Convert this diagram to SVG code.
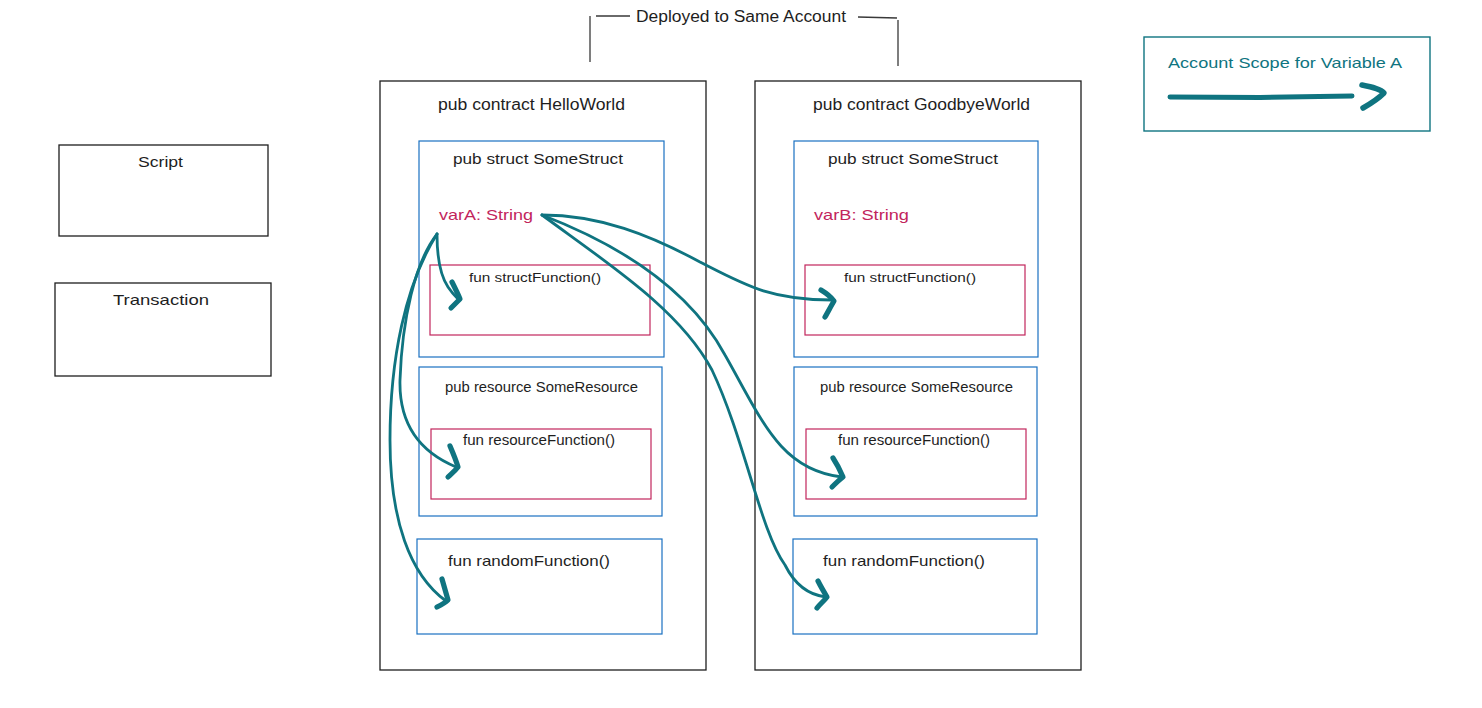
<svg xmlns="http://www.w3.org/2000/svg" width="1482" height="708" viewBox="0 0 1482 708">
  <style>
    .t { font-family: "Liberation Sans", "DejaVu Sans", sans-serif; fill: #1e1e1e; }
    .blk { fill: #ffffff; stroke: #1e1e1e; stroke-width: 1.3; }
    .blue { fill: none; stroke: #1971c2; stroke-width: 1.2; }
    .red { fill: none; stroke: #c2255c; stroke-width: 1.2; }
    .var { fill: #c2255c; }
    .teal { fill: none; stroke: #0f7480; stroke-linecap: round; stroke-linejoin: round; }
    .shaft { stroke-width: 2.8; }
    .head { stroke-width: 5.2; }
  </style>
  <rect width="1482" height="708" fill="#ffffff"/>

  <!-- bracket grouping both contracts -->
  <g id="deployed-bracket">
    <path d="M590 16 L590 62 M596 16 L630 16 M858 17 L897 18 M898 20 L898 66" fill="none" stroke="#3a3a3a" stroke-width="1.3"/>
    <text class="t" x="636" y="22" font-size="16" textLength="210" lengthAdjust="spacingAndGlyphs">Deployed to Same Account</text>
  </g>

  <!-- legend -->
  <g id="legend">
    <rect x="1144" y="37" width="286" height="94" fill="#ffffff" stroke="#0f7480" stroke-width="1.4"/>
    <text class="t" x="1168" y="68" font-size="15" style="fill:#0f7480" textLength="234" lengthAdjust="spacingAndGlyphs">Account Scope for Variable A</text>
    <path class="teal" d="M1170 97 L1260 97.5 L1352 96" stroke-width="5"/>
    <path class="teal" d="M1362 85 C1372 87 1381 89 1384 93 C1378 99 1370 104 1363 108" stroke-width="5.5"/>
  </g>

  <!-- standalone boxes -->
  <g id="script">
    <rect class="blk" x="59" y="145" width="209" height="91"/>
    <text class="t" x="138" y="167" font-size="15" textLength="45" lengthAdjust="spacingAndGlyphs">Script</text>
  </g>
  <g id="transaction">
    <rect class="blk" x="55" y="283" width="216" height="93"/>
    <text class="t" x="113" y="305" font-size="15" textLength="96" lengthAdjust="spacingAndGlyphs">Transaction</text>
  </g>

  <!-- contract HelloWorld -->
  <g id="hello-world">
    <rect class="blk" x="380" y="81" width="326" height="589"/>
    <text class="t" x="438" y="110" font-size="16" textLength="187" lengthAdjust="spacingAndGlyphs">pub contract HelloWorld</text>
  </g>
  <g id="hello-struct">
    <rect class="blue" x="419" y="141" width="245" height="216"/>
    <text class="t" x="453" y="164" font-size="15" textLength="170" lengthAdjust="spacingAndGlyphs">pub struct SomeStruct</text>
    <text class="t var" x="439" y="220" font-size="15" textLength="94" lengthAdjust="spacingAndGlyphs">varA: String</text>
  </g>
  <g id="hello-struct-function">
    <rect class="red" x="430" y="265" width="220" height="70"/>
    <text class="t" x="469" y="282" font-size="13" textLength="132" lengthAdjust="spacingAndGlyphs">fun structFunction()</text>
  </g>
  <g id="hello-resource">
    <rect class="blue" x="419" y="367" width="243" height="149"/>
    <text class="t" x="445" y="392" font-size="15" textLength="193" lengthAdjust="spacingAndGlyphs">pub resource SomeResource</text>
  </g>
  <g id="hello-resource-function">
    <rect class="red" x="431" y="429" width="220" height="70"/>
    <text class="t" x="463" y="445" font-size="14" textLength="152" lengthAdjust="spacingAndGlyphs">fun resourceFunction()</text>
  </g>
  <g id="hello-random-function">
    <rect class="blue" x="417" y="539" width="245" height="95"/>
    <text class="t" x="448" y="566" font-size="15" textLength="162" lengthAdjust="spacingAndGlyphs">fun randomFunction()</text>
  </g>

  <!-- contract GoodbyeWorld -->
  <g id="goodbye-world">
    <rect class="blk" x="755" y="81" width="326" height="589"/>
    <text class="t" x="813" y="110" font-size="16" textLength="217" lengthAdjust="spacingAndGlyphs">pub contract GoodbyeWorld</text>
  </g>
  <g id="goodbye-struct">
    <rect class="blue" x="794" y="141" width="244" height="216"/>
    <text class="t" x="828" y="164" font-size="15" textLength="170" lengthAdjust="spacingAndGlyphs">pub struct SomeStruct</text>
    <text class="t var" x="814" y="220" font-size="15" textLength="95" lengthAdjust="spacingAndGlyphs">varB: String</text>
  </g>
  <g id="goodbye-struct-function">
    <rect class="red" x="805" y="265" width="220" height="70"/>
    <text class="t" x="844" y="282" font-size="13" textLength="132" lengthAdjust="spacingAndGlyphs">fun structFunction()</text>
  </g>
  <g id="goodbye-resource">
    <rect class="blue" x="794" y="367" width="243" height="149"/>
    <text class="t" x="820" y="392" font-size="15" textLength="193" lengthAdjust="spacingAndGlyphs">pub resource SomeResource</text>
  </g>
  <g id="goodbye-resource-function">
    <rect class="red" x="806" y="429" width="220" height="70"/>
    <text class="t" x="838" y="445" font-size="14" textLength="152" lengthAdjust="spacingAndGlyphs">fun resourceFunction()</text>
  </g>
  <g id="goodbye-random-function">
    <rect class="blue" x="793" y="539" width="244" height="95"/>
    <text class="t" x="823" y="566" font-size="15" textLength="162" lengthAdjust="spacingAndGlyphs">fun randomFunction()</text>
  </g>

  <!-- scope arrows from varA -->
  <g id="connectors">
    <!-- to HelloWorld structFunction -->
    <path class="teal shaft" d="M437 234 C437 255 440 275 448 287 C452 293 456 297 458 299"/>
    <path class="teal head" d="M452 282 C455 288 458 294 460 299 C457 302 454 305 451 308"/>
    <!-- to HelloWorld resourceFunction -->
    <path class="teal shaft" d="M437 234 C415 262 402 320 400 380 C399 420 415 450 456 467"/>
    <path class="teal head" d="M450 446 C453 453 456 460 458 467 C455 471 451 474 448 477"/>
    <!-- to HelloWorld randomFunction -->
    <path class="teal shaft" d="M437 234 C405 285 390 360 390 440 C390 520 410 575 446 601"/>
    <path class="teal head" d="M442 579 C444 586 446 593 448 600 C445 603 441 605 437 607"/>
    <!-- to GoodbyeWorld structFunction -->
    <path class="teal shaft" d="M542 215 C600 215 650 235 700 262 C745 285 770 300 832 300"/>
    <path class="teal head" d="M821 290 C826 293 831 297 834 301 C831 306 828 312 825 317"/>
    <!-- to GoodbyeWorld resourceFunction -->
    <path class="teal shaft" d="M542 215 C620 245 690 290 725 355 C762 420 780 470 842 477"/>
    <path class="teal head" d="M833 458 C837 464 840 470 843 477 C839 480 835 484 832 487"/>
    <!-- to GoodbyeWorld randomFunction -->
    <path class="teal shaft" d="M542 215 C610 265 680 310 712 370 C745 440 760 530 785 565 C795 585 808 595 826 597"/>
    <path class="teal head" d="M818 581 C821 587 824 592 827 597 C824 601 820 604 817 608"/>
  </g>
</svg>
